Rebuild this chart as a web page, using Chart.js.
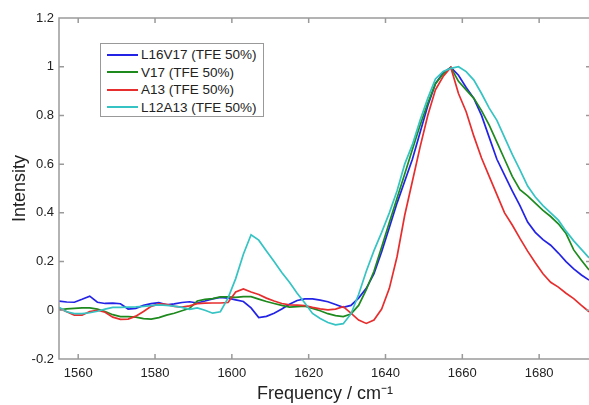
<!DOCTYPE html>
<html>
<head>
<meta charset="utf-8">
<script src="https://cdn.jsdelivr.net/npm/chart.js@4.4.1/dist/chart.umd.min.js"></script>
<style>
  html, body { margin: 0; padding: 0; background: #fff; overflow: hidden; }
  #wrap { position: relative; width: 592px; height: 405px; }
  #legend {
    position: absolute; left: 100px; top: 43px; width: 164px; height: 74px;
    border: 1.5px solid #999; background: #fff; box-sizing: border-box;
    font-family: "Liberation Sans", Arial, sans-serif; font-size: 13.5px; color: #222;
    padding-top: 2px;
  }
  #legend .row { height: 17.5px; display: flex; align-items: center; white-space: nowrap; }
  #legend .swatch { width: 31px; height: 2px; margin: 0 3px 0 6px; }
</style>
</head>
<body>
<div id="wrap">
  <canvas id="chart"></canvas>
  <div id="legend"></div>
</div>
<script>
// Frequency grid (cm^-1)
const freq = [
  1555, 1557, 1559, 1561, 1563, 1565, 1567, 1569, 1571, 1573,
  1575, 1577, 1579, 1581, 1583, 1585, 1587, 1589, 1591, 1593,
  1595, 1597, 1599, 1601, 1603, 1605, 1607, 1609, 1611, 1613,
  1615, 1617, 1619, 1621, 1623, 1625, 1627, 1629, 1631, 1633,
  1635, 1637, 1639, 1641, 1643, 1645, 1647, 1649, 1651, 1653,
  1655, 1657, 1659, 1661, 1663, 1665, 1667, 1669, 1671, 1673,
  1675, 1677, 1679, 1681, 1683, 1685, 1687, 1689, 1691, 1693
];

// L16V17 (TFE 50%)
const l16v17 = [
  0.038, 0.034, 0.033, 0.045, 0.058, 0.033, 0.028, 0.029, 0.027, 0.005,
  0.008, 0.020, 0.027, 0.031, 0.022, 0.026, 0.032, 0.035, 0.030, 0.038,
  0.047, 0.053, 0.050, 0.043, 0.036, 0.010, -0.030, -0.025, -0.012, 0.005,
  0.025, 0.040, 0.047, 0.047, 0.042, 0.035, 0.024, 0.012, 0.020, 0.050,
  0.090, 0.150, 0.240, 0.340, 0.440, 0.530, 0.620, 0.730, 0.840, 0.930,
  0.975, 0.997, 0.965, 0.915, 0.870, 0.800, 0.710, 0.620, 0.555, 0.490,
  0.430, 0.362, 0.320, 0.290, 0.267, 0.235, 0.200, 0.170, 0.145, 0.124
];

// V17 (TFE 50%)
const v17 = [
  0.002, 0.006, 0.008, 0.010, 0.010, 0.005, -0.005, -0.018, -0.026, -0.026,
  -0.028, -0.034, -0.036, -0.030, -0.020, -0.012, -0.002, 0.008, 0.038, 0.045,
  0.048, 0.055, 0.055, 0.053, 0.056, 0.056, 0.046, 0.036, 0.028, 0.020,
  0.013, 0.015, 0.017, 0.008, -0.002, -0.014, -0.022, -0.026, -0.015, 0.020,
  0.085, 0.160, 0.260, 0.360, 0.460, 0.560, 0.660, 0.760, 0.850, 0.930,
  0.970, 0.997, 0.940, 0.905, 0.870, 0.820, 0.760, 0.690, 0.620, 0.550,
  0.495, 0.470, 0.440, 0.410, 0.385, 0.355, 0.315, 0.248, 0.205, 0.165
];

// A13 (TFE 50%)
const a13 = [
  0.008, -0.006, -0.020, -0.020, -0.005, 0.000, -0.008, -0.028, -0.037, -0.036,
  -0.024, -0.005, 0.016, 0.026, 0.024, 0.016, 0.013, 0.018, 0.027, 0.029,
  0.030, 0.030, 0.032, 0.075, 0.088, 0.075, 0.065, 0.050, 0.038, 0.028,
  0.022, 0.021, 0.019, 0.012, 0.006, 0.002, 0.005, 0.015, -0.012, -0.040,
  -0.054, -0.040, 0.005, 0.090, 0.220, 0.390, 0.530, 0.670, 0.800, 0.905,
  0.960, 0.997, 0.890, 0.815, 0.715, 0.625, 0.550, 0.475, 0.400, 0.350,
  0.295, 0.243, 0.195, 0.150, 0.115, 0.095, 0.070, 0.048, 0.020, -0.006
];

// L12A13 (TFE 50%)
const l12a13 = [
  0.012, -0.006, -0.014, -0.014, -0.010, -0.004, 0.005, 0.012, 0.012, 0.013,
  0.014, 0.016, 0.019, 0.022, 0.020, 0.017, 0.012, 0.004, 0.010, 0.000,
  -0.012, -0.006, 0.050, 0.130, 0.230, 0.310, 0.288, 0.243, 0.200, 0.155,
  0.115, 0.070, 0.030, -0.013, -0.034, -0.050, -0.060, -0.055, -0.015, 0.065,
  0.160, 0.245, 0.320, 0.400, 0.490, 0.600, 0.680, 0.780, 0.870, 0.950,
  0.980, 0.993, 1.000, 0.980, 0.945, 0.890, 0.830, 0.780, 0.710, 0.640,
  0.576, 0.510, 0.465, 0.430, 0.400, 0.370, 0.325, 0.285, 0.250, 0.215
];

const seriesLabels = ['L16V17 (TFE 50%)', 'V17 (TFE 50%)', 'A13 (TFE 50%)', 'L12A13 (TFE 50%)'];
const seriesColors = ['#2323e6', '#1e8a1e', '#e62e2e', '#35c3c3'];
const xTicks = [1560, 1580, 1600, 1620, 1640, 1660, 1680];
const yTicks = [-0.2, 0, 0.2, 0.4, 0.6, 0.8, 1, 1.2];

const FONT = '"Liberation Sans", Arial, Helvetica, sans-serif';
const AXIS_COLOR = '#9a9a9a';
const TEXT_COLOR = '#222';

const seriesValues = [l16v17, v17, a13, l12a13];

const datasets = seriesValues.map((vals, i) => ({
    label: seriesLabels[i],
    data: freq.map((f, k) => ({ x: f, y: vals[k] })),
    borderColor: seriesColors[i],
    backgroundColor: seriesColors[i],
    borderWidth: 1.7,
    pointRadius: 0,
    tension: 0,
    fill: false,
    order: seriesValues.length - i,   // last series drawn on top, as in MATLAB
}));

// MATLAB-like box with inward tick marks on all four sides
const framePlugin = {
    id: 'frame',
    afterDatasetsDraw(chart) {
        const { ctx, chartArea: a, scales } = chart;
        const tl = 5;
        ctx.save();
        ctx.strokeStyle = AXIS_COLOR;
        ctx.lineWidth = 1.5;
        ctx.beginPath();
        ctx.rect(a.left, a.top, a.right - a.left, a.bottom - a.top);
        scales.x.ticks.forEach(t => {
            const px = scales.x.getPixelForValue(t.value);
            ctx.moveTo(px, a.bottom); ctx.lineTo(px, a.bottom - tl);
            ctx.moveTo(px, a.top); ctx.lineTo(px, a.top + tl);
        });
        scales.y.ticks.forEach(t => {
            const py = scales.y.getPixelForValue(t.value);
            ctx.moveTo(a.left, py); ctx.lineTo(a.left + tl, py);
            ctx.moveTo(a.right, py); ctx.lineTo(a.right - tl, py);
        });
        ctx.stroke();
        ctx.restore();
    }
};

new Chart(document.getElementById('chart'), {
    type: 'line',
    data: { datasets },
    options: {
        responsive: true,
        maintainAspectRatio: false,
        animation: false,
        layout: { padding: { top: 18, right: 1, left: 0, bottom: 0 } },
        plugins: {
            legend: { display: false },
            tooltip: { enabled: false },
        },
        scales: {
            x: {
                type: 'linear',
                min: 1555,
                max: 1693.5,
                afterBuildTicks: s => { s.ticks = xTicks.map(v => ({ value: v })); },
                afterFit: s => { s.height = 46; },
                grid: { display: false, drawTicks: false },
                border: { display: false },
                ticks: {
                    color: TEXT_COLOR,
                    font: { family: FONT, size: 13 },
                    padding: 7,
                    maxRotation: 0,
                    callback: v => String(v),
                },
                title: {
                    display: true,
                    text: 'Frequency / cm⁻¹',
                    color: TEXT_COLOR,
                    font: { family: FONT, size: 18 },
                    padding: { top: 0, bottom: 0 },
                },
            },
            y: {
                min: -0.2,
                max: 1.2,
                afterBuildTicks: s => { s.ticks = yTicks.map(v => ({ value: v })); },
                afterFit: s => { s.width = 59; },
                grid: { display: false, drawTicks: false },
                border: { display: false },
                ticks: {
                    color: TEXT_COLOR,
                    font: { family: FONT, size: 13 },
                    padding: 5,
                    callback: v => String(Number(v.toFixed(1))),
                },
                title: {
                    display: true,
                    text: 'Intensity',
                    color: TEXT_COLOR,
                    font: { family: FONT, size: 18 },
                    padding: { top: 9, bottom: 0 },
                },
            },
        },
    },
    plugins: [framePlugin],
});

// Legend box inside the axes
const legendEl = document.getElementById('legend');
seriesLabels.forEach((label, i) => {
    const row = document.createElement('div');
    row.className = 'row';
    const sw = document.createElement('span');
    sw.className = 'swatch';
    sw.style.background = seriesColors[i];
    const txt = document.createElement('span');
    txt.textContent = label;
    row.appendChild(sw);
    row.appendChild(txt);
    legendEl.appendChild(row);
});
</script>
</body>
</html>
